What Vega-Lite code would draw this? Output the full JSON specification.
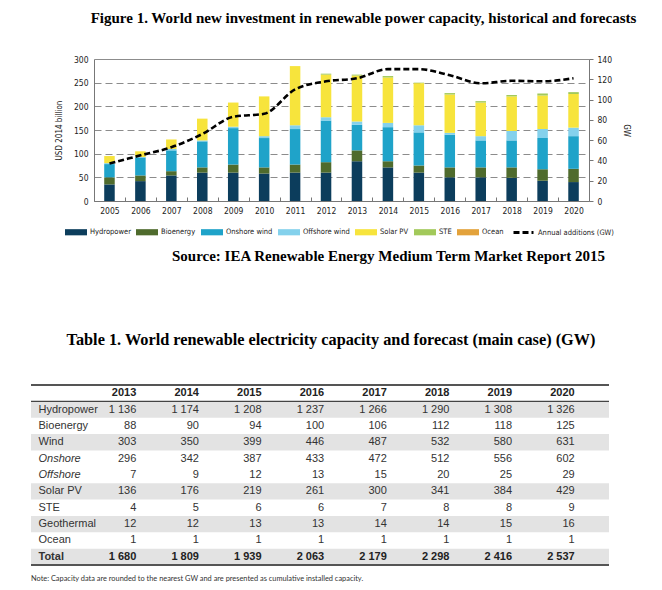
{
  "$schema": "https://vega.github.io/schema/vega-lite/v6.json",
  "padding": {"left": 30, "top": 11, "right": 5, "bottom": 5},
  "background": "white",
  "config": {
    "view": {"stroke": null},
    "locale": {"number": {"decimal": ".", "thousands": " ", "grouping": [3], "currency": ["", ""]}},
    "legend": {"layout": {"bottom": {"anchor": "middle"}}}
  },
  "resolve": {"legend": {"color": "independent", "strokeDash": "independent"}},
  "title": {
    "text": "Figure 1. World new investment in renewable power capacity, historical and forecasts",
    "font": "Liberation Serif", "fontSize": 15, "fontWeight": "bold", "color": "#000",
    "anchor": "middle", "dx": 25, "offset": 29
  },
  "spacing": 67,
  "datasets": {
    "investment": [
      {"year": "2005", "source": "Hydropower", "usd": 35}, {"year": "2005", "source": "Bioenergy", "usd": 15}, {"year": "2005", "source": "Onshore wind", "usd": 28}, {"year": "2005", "source": "Offshore wind", "usd": 2}, {"year": "2005", "source": "Solar PV", "usd": 15},
      {"year": "2006", "source": "Hydropower", "usd": 42}, {"year": "2006", "source": "Bioenergy", "usd": 12}, {"year": "2006", "source": "Onshore wind", "usd": 38}, {"year": "2006", "source": "Offshore wind", "usd": 1}, {"year": "2006", "source": "Solar PV", "usd": 12},
      {"year": "2007", "source": "Hydropower", "usd": 54}, {"year": "2007", "source": "Bioenergy", "usd": 9}, {"year": "2007", "source": "Onshore wind", "usd": 44}, {"year": "2007", "source": "Offshore wind", "usd": 3}, {"year": "2007", "source": "Solar PV", "usd": 20},
      {"year": "2008", "source": "Hydropower", "usd": 60}, {"year": "2008", "source": "Bioenergy", "usd": 11}, {"year": "2008", "source": "Onshore wind", "usd": 55}, {"year": "2008", "source": "Offshore wind", "usd": 2}, {"year": "2008", "source": "Solar PV", "usd": 46},
      {"year": "2009", "source": "Hydropower", "usd": 60}, {"year": "2009", "source": "Bioenergy", "usd": 17}, {"year": "2009", "source": "Onshore wind", "usd": 77}, {"year": "2009", "source": "Offshore wind", "usd": 3}, {"year": "2009", "source": "Solar PV", "usd": 51},
      {"year": "2010", "source": "Hydropower", "usd": 58}, {"year": "2010", "source": "Bioenergy", "usd": 13}, {"year": "2010", "source": "Onshore wind", "usd": 62}, {"year": "2010", "source": "Offshore wind", "usd": 4}, {"year": "2010", "source": "Solar PV", "usd": 84},
      {"year": "2011", "source": "Hydropower", "usd": 60}, {"year": "2011", "source": "Bioenergy", "usd": 17}, {"year": "2011", "source": "Onshore wind", "usd": 75}, {"year": "2011", "source": "Offshore wind", "usd": 8}, {"year": "2011", "source": "Solar PV", "usd": 125},
      {"year": "2012", "source": "Hydropower", "usd": 60}, {"year": "2012", "source": "Bioenergy", "usd": 22}, {"year": "2012", "source": "Onshore wind", "usd": 88}, {"year": "2012", "source": "Offshore wind", "usd": 7}, {"year": "2012", "source": "Solar PV", "usd": 90}, {"year": "2012", "source": "STE", "usd": 2},
      {"year": "2013", "source": "Hydropower", "usd": 84}, {"year": "2013", "source": "Bioenergy", "usd": 23}, {"year": "2013", "source": "Onshore wind", "usd": 54}, {"year": "2013", "source": "Offshore wind", "usd": 7}, {"year": "2013", "source": "Solar PV", "usd": 97}, {"year": "2013", "source": "STE", "usd": 2},
      {"year": "2014", "source": "Hydropower", "usd": 71}, {"year": "2014", "source": "Bioenergy", "usd": 13}, {"year": "2014", "source": "Onshore wind", "usd": 72}, {"year": "2014", "source": "Offshore wind", "usd": 9}, {"year": "2014", "source": "Solar PV", "usd": 96}, {"year": "2014", "source": "STE", "usd": 3},
      {"year": "2015", "source": "Hydropower", "usd": 60}, {"year": "2015", "source": "Bioenergy", "usd": 15}, {"year": "2015", "source": "Onshore wind", "usd": 70}, {"year": "2015", "source": "Offshore wind", "usd": 15}, {"year": "2015", "source": "Solar PV", "usd": 89}, {"year": "2015", "source": "STE", "usd": 1},
      {"year": "2016", "source": "Hydropower", "usd": 50}, {"year": "2016", "source": "Bioenergy", "usd": 21}, {"year": "2016", "source": "Onshore wind", "usd": 69}, {"year": "2016", "source": "Offshore wind", "usd": 4}, {"year": "2016", "source": "Solar PV", "usd": 81}, {"year": "2016", "source": "STE", "usd": 3},
      {"year": "2017", "source": "Hydropower", "usd": 50}, {"year": "2017", "source": "Bioenergy", "usd": 21}, {"year": "2017", "source": "Onshore wind", "usd": 57}, {"year": "2017", "source": "Offshore wind", "usd": 9}, {"year": "2017", "source": "Solar PV", "usd": 71}, {"year": "2017", "source": "STE", "usd": 3},
      {"year": "2018", "source": "Hydropower", "usd": 49}, {"year": "2018", "source": "Bioenergy", "usd": 22}, {"year": "2018", "source": "Onshore wind", "usd": 57}, {"year": "2018", "source": "Offshore wind", "usd": 20}, {"year": "2018", "source": "Solar PV", "usd": 73}, {"year": "2018", "source": "STE", "usd": 3},
      {"year": "2019", "source": "Hydropower", "usd": 43}, {"year": "2019", "source": "Bioenergy", "usd": 24}, {"year": "2019", "source": "Onshore wind", "usd": 66}, {"year": "2019", "source": "Offshore wind", "usd": 19}, {"year": "2019", "source": "Solar PV", "usd": 71}, {"year": "2019", "source": "STE", "usd": 4},
      {"year": "2020", "source": "Hydropower", "usd": 40}, {"year": "2020", "source": "Bioenergy", "usd": 28}, {"year": "2020", "source": "Onshore wind", "usd": 69}, {"year": "2020", "source": "Offshore wind", "usd": 18}, {"year": "2020", "source": "Solar PV", "usd": 71}, {"year": "2020", "source": "STE", "usd": 4}
    ],
    "additions": [
      {"year": "2005", "gw": 37}, {"year": "2006", "gw": 45}, {"year": "2007", "gw": 53}, {"year": "2008", "gw": 66},
      {"year": "2009", "gw": 83}, {"year": "2010", "gw": 86}, {"year": "2011", "gw": 110}, {"year": "2012", "gw": 118},
      {"year": "2013", "gw": 121}, {"year": "2014", "gw": 130}, {"year": "2015", "gw": 130}, {"year": "2016", "gw": 124},
      {"year": "2017", "gw": 116}, {"year": "2018", "gw": 118.5}, {"year": "2019", "gw": 118}, {"year": "2020", "gw": 121}
    ],
    "capacity": [
      {"tech": "Hydropower", "year": "2013", "gw": 1136}, {"tech": "Hydropower", "year": "2014", "gw": 1174}, {"tech": "Hydropower", "year": "2015", "gw": 1208}, {"tech": "Hydropower", "year": "2016", "gw": 1237}, {"tech": "Hydropower", "year": "2017", "gw": 1266}, {"tech": "Hydropower", "year": "2018", "gw": 1290}, {"tech": "Hydropower", "year": "2019", "gw": 1308}, {"tech": "Hydropower", "year": "2020", "gw": 1326},
      {"tech": "Bioenergy", "year": "2013", "gw": 88}, {"tech": "Bioenergy", "year": "2014", "gw": 90}, {"tech": "Bioenergy", "year": "2015", "gw": 94}, {"tech": "Bioenergy", "year": "2016", "gw": 100}, {"tech": "Bioenergy", "year": "2017", "gw": 106}, {"tech": "Bioenergy", "year": "2018", "gw": 112}, {"tech": "Bioenergy", "year": "2019", "gw": 118}, {"tech": "Bioenergy", "year": "2020", "gw": 125},
      {"tech": "Wind", "year": "2013", "gw": 303}, {"tech": "Wind", "year": "2014", "gw": 350}, {"tech": "Wind", "year": "2015", "gw": 399}, {"tech": "Wind", "year": "2016", "gw": 446}, {"tech": "Wind", "year": "2017", "gw": 487}, {"tech": "Wind", "year": "2018", "gw": 532}, {"tech": "Wind", "year": "2019", "gw": 580}, {"tech": "Wind", "year": "2020", "gw": 631},
      {"tech": "Onshore", "year": "2013", "gw": 296}, {"tech": "Onshore", "year": "2014", "gw": 342}, {"tech": "Onshore", "year": "2015", "gw": 387}, {"tech": "Onshore", "year": "2016", "gw": 433}, {"tech": "Onshore", "year": "2017", "gw": 472}, {"tech": "Onshore", "year": "2018", "gw": 512}, {"tech": "Onshore", "year": "2019", "gw": 556}, {"tech": "Onshore", "year": "2020", "gw": 602},
      {"tech": "Offshore", "year": "2013", "gw": 7}, {"tech": "Offshore", "year": "2014", "gw": 9}, {"tech": "Offshore", "year": "2015", "gw": 12}, {"tech": "Offshore", "year": "2016", "gw": 13}, {"tech": "Offshore", "year": "2017", "gw": 15}, {"tech": "Offshore", "year": "2018", "gw": 20}, {"tech": "Offshore", "year": "2019", "gw": 25}, {"tech": "Offshore", "year": "2020", "gw": 29},
      {"tech": "Solar PV", "year": "2013", "gw": 136}, {"tech": "Solar PV", "year": "2014", "gw": 176}, {"tech": "Solar PV", "year": "2015", "gw": 219}, {"tech": "Solar PV", "year": "2016", "gw": 261}, {"tech": "Solar PV", "year": "2017", "gw": 300}, {"tech": "Solar PV", "year": "2018", "gw": 341}, {"tech": "Solar PV", "year": "2019", "gw": 384}, {"tech": "Solar PV", "year": "2020", "gw": 429},
      {"tech": "STE", "year": "2013", "gw": 4}, {"tech": "STE", "year": "2014", "gw": 5}, {"tech": "STE", "year": "2015", "gw": 6}, {"tech": "STE", "year": "2016", "gw": 6}, {"tech": "STE", "year": "2017", "gw": 7}, {"tech": "STE", "year": "2018", "gw": 8}, {"tech": "STE", "year": "2019", "gw": 8}, {"tech": "STE", "year": "2020", "gw": 9},
      {"tech": "Geothermal", "year": "2013", "gw": 12}, {"tech": "Geothermal", "year": "2014", "gw": 12}, {"tech": "Geothermal", "year": "2015", "gw": 13}, {"tech": "Geothermal", "year": "2016", "gw": 13}, {"tech": "Geothermal", "year": "2017", "gw": 14}, {"tech": "Geothermal", "year": "2018", "gw": 14}, {"tech": "Geothermal", "year": "2019", "gw": 15}, {"tech": "Geothermal", "year": "2020", "gw": 16},
      {"tech": "Ocean", "year": "2013", "gw": 1}, {"tech": "Ocean", "year": "2014", "gw": 1}, {"tech": "Ocean", "year": "2015", "gw": 1}, {"tech": "Ocean", "year": "2016", "gw": 1}, {"tech": "Ocean", "year": "2017", "gw": 1}, {"tech": "Ocean", "year": "2018", "gw": 1}, {"tech": "Ocean", "year": "2019", "gw": 1}, {"tech": "Ocean", "year": "2020", "gw": 1},
      {"tech": "Total", "year": "2013", "gw": 1680}, {"tech": "Total", "year": "2014", "gw": 1809}, {"tech": "Total", "year": "2015", "gw": 1939}, {"tech": "Total", "year": "2016", "gw": 2063}, {"tech": "Total", "year": "2017", "gw": 2179}, {"tech": "Total", "year": "2018", "gw": 2298}, {"tech": "Total", "year": "2019", "gw": 2416}, {"tech": "Total", "year": "2020", "gw": 2537}
    ]
  },
  "vconcat": [
    {
      "width": 616,
      "height": 142,
      "title": {
        "text": "Source: IEA Renewable Energy Medium Term Market Report 2015",
        "orient": "bottom", "anchor": "end", "frame": "group", "dx": -42, "offset": 10,
        "font": "Liberation Serif", "fontSize": 15, "fontWeight": "bold", "color": "#000"
      },
      "layer": [
        {
          "data": {"name": "investment"},
          "transform": [{"calculate": "indexof(['Hydropower','Bioenergy','Onshore wind','Offshore wind','Solar PV','STE','Ocean'], datum.source)", "as": "stack_rank"}],
          "mark": {"type": "bar"},
          "encoding": {
            "x": {
              "field": "year", "type": "ordinal",
              "scale": {"range": [63, 558], "paddingInner": 0.66, "paddingOuter": 0.33},
              "axis": {
                "title": null, "labelAngle": 0, "domainColor": "#777", "tickColor": "#777",
                "tickSize": -4, "tickOffset": -15.47, "labelOffset": 15.47, "labelPadding": 9,
                "labelFont": "Liberation Sans Narrow, DejaVu Sans Condensed, sans-serif", "labelFontSize": 8.5, "labelColor": "#222", "grid": false
              }
            },
            "y": {
              "field": "usd", "type": "quantitative", "stack": "zero",
              "scale": {"domain": [0, 300]},
              "axis": {
                "title": "USD 2014 billion", "titleFont": "Liberation Sans Narrow, DejaVu Sans Condensed, sans-serif",
                "titleFontSize": 8, "titleFontWeight": "normal", "titleColor": "#222", "titlePadding": 10,
                "offset": -63, "ticks": false, "labelPadding": 6, "values": [0, 50, 100, 150, 200, 250, 300],
                "labelFont": "Liberation Sans Narrow, DejaVu Sans Condensed, sans-serif", "labelFontSize": 8.5, "labelColor": "#222",
                "domainColor": "#777", "grid": true, "gridColor": "#8c8c8c",
                "gridDash": {"condition": {"test": "datum.value === 300 || datum.value === 0", "value": []}, "value": [7, 4]}
              }
            },
            "order": {"field": "stack_rank", "type": "quantitative"},
            "color": {
              "field": "source", "type": "nominal",
              "sort": ["Hydropower", "Bioenergy", "Onshore wind", "Offshore wind", "Solar PV", "STE", "Ocean"],
              "scale": {
                "domain": ["Hydropower", "Bioenergy", "Onshore wind", "Offshore wind", "Solar PV", "STE", "Ocean"],
                "range": ["#0c3d5c", "#4f6b2d", "#1fa3c9", "#84d1ec", "#f7e43c", "#a2c95a", "#e3a23b"]
              },
              "legend": {
                "title": null, "orient": "bottom", "direction": "horizontal", "offset": 6,
                "symbolType": "M-1,-0.28H1V0.28H-1Z", "symbolSize": 484, "symbolStrokeWidth": 0,
                "labelFont": "Liberation Sans Narrow, DejaVu Sans Condensed, sans-serif", "labelFontSize": 7.5, "labelColor": "#222",
                "columnPadding": 5, "labelOffset": 3
              }
            }
          }
        },
        {
          "data": {"name": "additions"},
          "mark": {"type": "line", "color": "#000", "strokeWidth": 2.6, "interpolate": "monotone"},
          "encoding": {
            "x": {"field": "year", "type": "ordinal"},
            "y": {
              "field": "gw", "type": "quantitative",
              "scale": {"domain": [0, 140]},
              "axis": {
                "orient": "right", "title": "GW", "offset": -58, "values": [0, 20, 40, 60, 80, 100, 120, 140],
                "grid": false, "tickSize": 4, "tickColor": "#777", "domainColor": "#777", "labelPadding": 4, "titlePadding": 10,
                "labelFont": "Liberation Sans Narrow, DejaVu Sans Condensed, sans-serif", "labelFontSize": 8.5, "labelColor": "#222",
                "titleFont": "Liberation Sans Narrow, DejaVu Sans Condensed, sans-serif", "titleFontSize": 8, "titleFontWeight": "normal", "titleColor": "#222"
              }
            },
            "strokeDash": {
              "datum": "Annual additions (GW)",
              "scale": {"range": [[6, 3]]},
              "legend": {
                "title": null, "orient": "bottom", "direction": "horizontal", "offset": 6,
                "symbolType": "stroke", "symbolStrokeWidth": 3, "symbolSize": 400, "symbolStrokeColor": "#000",
                "labelFont": "Liberation Sans Narrow, DejaVu Sans Condensed, sans-serif", "labelFontSize": 7.5, "labelColor": "#222", "labelOffset": 3
              }
            }
          }
        }
      ],
      "resolve": {"scale": {"y": "independent"}}
    },
    {
      "title": {
        "text": "Table 1. World renewable electricity capacity and forecast (main case) (GW)",
        "font": "Liberation Serif", "fontSize": 16.3, "fontWeight": "bold", "color": "#000",
        "anchor": "middle", "dx": 11, "offset": 36
      },
      "vconcat": [
        {
          "width": 578,
          "height": 180,
          "title": {
            "text": "Note: Capacity data are rounded to the nearest GW and are presented as cumulative installed capacity.",
            "orient": "bottom", "anchor": "start", "frame": "group", "offset": 9,
            "font": "Lato", "fontSize": 7.4, "fontWeight": "normal", "color": "#333"
          },
          "data": {"name": "capacity"},
          "layer": [
            {
              "transform": [{"filter": "datum.year === '2013' && indexof(['Hydropower','Wind','Solar PV','Geothermal','Total'], datum.tech) >= 0"}],
              "mark": {"type": "rect", "color": "#e3e3e3"},
              "encoding": {
                "y": {
                  "field": "tech", "type": "nominal",
                  "scale": {"domain": ["header", "Hydropower", "Bioenergy", "Wind", "Onshore", "Offshore", "Solar PV", "STE", "Geothermal", "Ocean", "Total"], "paddingInner": 0, "paddingOuter": 0},
                  "axis": {
                    "title": null, "domain": false, "ticks": false, "tickSize": 0, "grid": false, "zindex": 1,
                    "labelAlign": "left", "labelPadding": -7, "labelFont": "Liberation Sans", "labelFontSize": 11, "labelColor": "#333",
                    "labelExpr": "datum.value === 'header' ? '' : datum.value",
                    "labelFontStyle": {"condition": {"test": "datum.value === 'Onshore' || datum.value === 'Offshore'", "value": "italic"}, "value": "normal"},
                    "labelFontWeight": {"condition": {"test": "datum.value === 'Total'", "value": "bold"}, "value": "normal"}
                  }
                }
              }
            },
            {
              "transform": [{"filter": "datum.year === '2013' && datum.tech === 'Total'"}],
              "mark": {"type": "rule", "color": "#555", "strokeWidth": 2},
              "encoding": {"y": {"datum": "header", "type": "nominal", "bandPosition": 0}}
            },
            {
              "transform": [{"filter": "datum.year === '2013' && datum.tech === 'Total'"}],
              "mark": {"type": "rule", "color": "#444", "strokeWidth": 1.2},
              "encoding": {"y": {"datum": "header", "type": "nominal", "bandPosition": 1}}
            },
            {
              "transform": [{"filter": "datum.year === '2013' && datum.tech === 'Total'"}],
              "mark": {"type": "rule", "color": "#555", "strokeWidth": 2},
              "encoding": {"y": {"datum": "Total", "type": "nominal", "bandPosition": 1}}
            },
            {
              "transform": [{"filter": "datum.tech === 'Total'"}],
              "mark": {"type": "text", "align": "right", "dx": -1, "font": "Liberation Sans", "fontSize": 11, "fontWeight": "bold", "color": "#222"},
              "encoding": {
                "x": {"field": "year", "type": "ordinal", "bandPosition": 1, "scale": {"domain": ["2013", "2014", "2015", "2016", "2017", "2018", "2019", "2020"], "range": [75, 576], "paddingInner": 0, "paddingOuter": 0}, "axis": null},
                "y": {"datum": "header", "type": "nominal"},
                "text": {"field": "year"}
              }
            },
            {
              "transform": [{"filter": "datum.tech !== 'Total'"}],
              "mark": {"type": "text", "align": "right", "dx": -1, "font": "Liberation Sans", "fontSize": 11, "color": "#333"},
              "encoding": {
                "x": {"field": "year", "type": "ordinal", "bandPosition": 1},
                "y": {"field": "tech", "type": "nominal"},
                "text": {"field": "gw", "type": "quantitative", "format": ",d"}
              }
            },
            {
              "transform": [{"filter": "datum.tech === 'Total'"}],
              "mark": {"type": "text", "align": "right", "dx": -1, "font": "Liberation Sans", "fontSize": 11, "fontWeight": "bold", "color": "#222"},
              "encoding": {
                "x": {"field": "year", "type": "ordinal", "bandPosition": 1},
                "y": {"field": "tech", "type": "nominal"},
                "text": {"field": "gw", "type": "quantitative", "format": ",d"}
              }
            }
          ]
        }
      ]
    }
  ]
}
